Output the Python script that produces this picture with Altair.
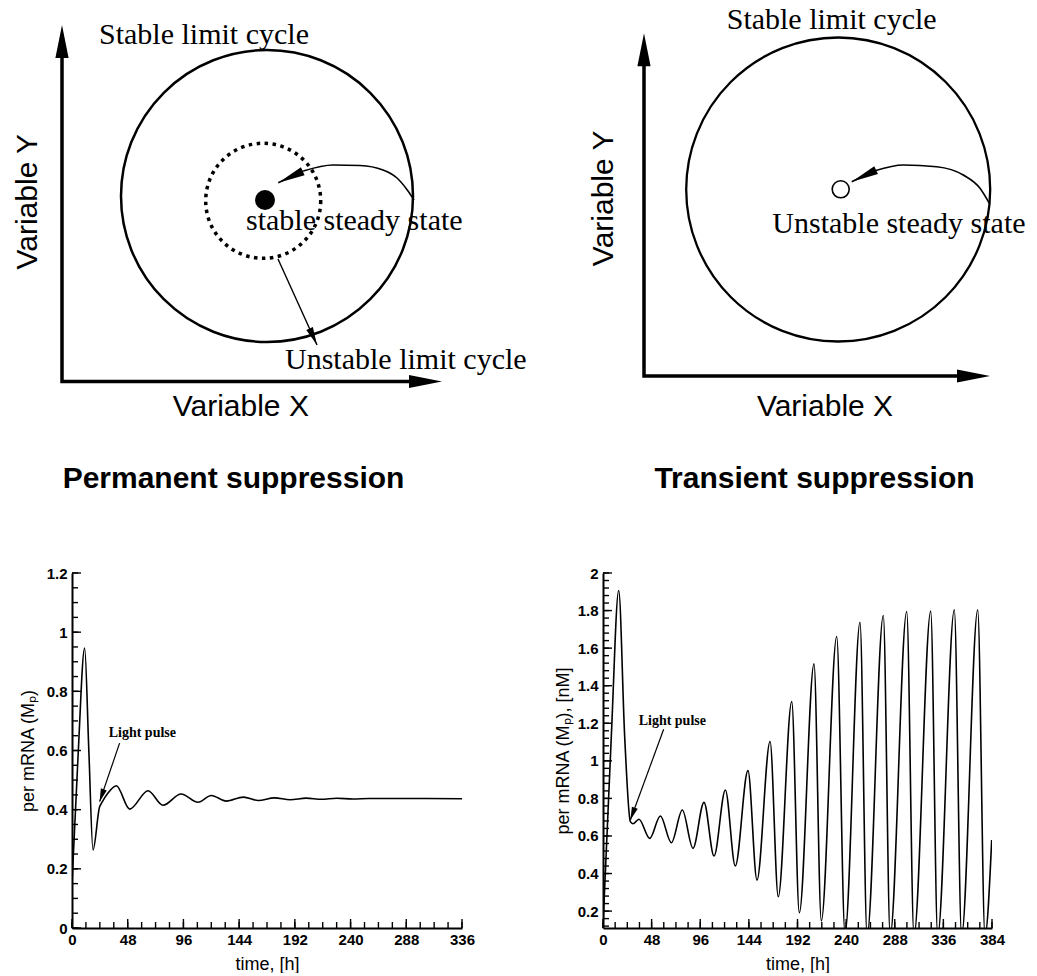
import math
import altair as alt
import pandas as pd

SANS = "Liberation Sans"
SERIF = "Liberation Serif"

# ---------------- data: bottom panels (time [h] vs per mRNA) ----------------
perm_time = [0, 5.2, 10.9, 14.5, 18.1, 23.8, 25.3, 31, 38.2, 49.7, 65.5, 78.4, 94, 108.6,
             120, 133, 147.6, 160.5, 174.3, 188, 201.7, 215, 228, 242, 256, 336]
perm_mrna = [0.15, 0.58, 0.946, 0.60, 0.264, 0.41, 0.421, 0.456, 0.481, 0.402, 0.464, 0.415,
             0.453, 0.425, 0.448, 0.429, 0.4425, 0.431, 0.440, 0.4335, 0.439, 0.435, 0.4385,
             0.436, 0.438, 0.437]

trans_time = [0, 8.2, 15.5, 21.4, 27, 29.6, 35.5, 46.1, 56.6, 67.5, 78.3, 88.8, 99.7, 109.6,
              120.8, 130.6, 143.1, 152, 164.9, 173, 186.3, 193.8, 208.3, 215.5, 230.7, 238.9,
              253.7, 260.7, 276.7, 283.5, 299.8, 307, 323.5, 330.4, 346.8, 354, 369.9, 377.1, 383.7]
trans_mrna = [0.12, 1.129, 1.907, 1.129, 0.676, 0.665, 0.689, 0.587, 0.706, 0.564, 0.738, 0.534,
              0.779, 0.493, 0.845, 0.44, 0.948, 0.365, 1.103, 0.276, 1.316, 0.191, 1.516, 0.148,
              1.662, 0.08, 1.737, 0.07, 1.774, 0.07, 1.795, 0.07, 1.797, 0.07, 1.804, 0.07,
              1.804, 0.07, 0.578]

# light-pulse annotation: shaft start, arrow tip, label position
perm_arrow_time = [41.0, 23.8]
perm_arrow_mrna = [0.625, 0.427]
perm_label = ("Light pulse", 31.6, 0.645)
trans_arrow_time = [59.9, 27.0]
trans_arrow_mrna = [1.168, 0.685]
trans_label = ("Light pulse", 35.2, 1.191)

# axis tick values / labels
perm_x_major = [0, 48, 96, 144, 192, 240, 288, 336]
perm_y_major = [0, 0.2, 0.4, 0.6, 0.8, 1.0, 1.2]
trans_x_major = [0, 48, 96, 144, 192, 240, 288, 336, 384]
trans_y_major = [0.2, 0.4, 0.6, 0.8, 1.0, 1.2, 1.4, 1.6, 1.8, 2.0]


def steps(a, b, step):
    n = int(round((b - a) / step))
    return [round(a + i * step, 6) for i in range(n + 1)]


perm_x_minor = steps(0, 336, 12)
perm_y_minor = steps(0, 1.2, 0.05)
trans_x_minor = steps(0, 384, 12)
trans_y_minor = steps(0.12, 2.0, 0.04)

# ---------------- data: top schematic diagrams (diagram units) ----------------
# permanent suppression (left)
tl_axes_x = [0, 0, 35.2]
tl_axes_y = [32.6, 0, 0]
tl_heads_x = [0, 38.0]
tl_heads_y = [35.65, 0]
tl_heads_dir = [0, 90]
tl_cycle = (20.5, 18.55)
tl_unstable_cycle = (20.12, 18.07)
tl_steady = (20.3, 18.15)
tl_curve_x = [24.13, 27.1, 29.8, 32.1, 33.5, 34.6, 35.2]
tl_curve_y = [21.05, 21.65, 21.6, 21.15, 20.35, 19.05, 18.15]
tl_curve_tip = (21.63, 19.88)
tl_pointer_x = [21.6, 25.5]
tl_pointer_y = [12.25, 3.65]
tl_labels = ["Stable limit cycle", "stable steady state", "Unstable limit cycle"]
tl_labels_x = [3.7, 18.4, 22.3]
tl_labels_y = [33.8, 15.15, 1.22]
tl_axis_titles = [("Variable Y", -3.45, 17.98, 270), ("Variable X", 17.88, -2.52, 0)]

# transient suppression (right)
tr_axes_x = [0, 0, 31.5]
tr_axes_y = [31.2, 0, 0]
tr_heads_x = [0, 34.6]
tr_heads_y = [34.27, 0]
tr_heads_dir = [0, 90]
tr_cycle = (19.42, 18.65)
tr_unstable_state = (19.67, 18.67)
tr_curve_x = [23.1, 25.93, 29.27, 31.93, 33.6, 34.53]
tr_curve_y = [20.53, 21.1, 20.93, 20.1, 18.77, 17.27]
tr_curve_tip = (20.77, 19.43)
tr_labels = ["Stable limit cycle", "Unstable steady state"]
tr_labels_x = [8.27, 12.83]
tr_labels_y = [34.67, 14.27]
tr_axis_titles = [("Variable Y", -3.98, 17.77, 270), ("Variable X", 18.1, -3.07, 0)]

# ---------------- layout (pixels) ----------------
W_L, W_R = 390, 389
TOP_H, BOT_H = 430, 355
COL_GAP, ROW_GAP = 141, 143
PX_PER_UNIT = 10.0  # diagram units

HEAD_AXIS = "M0,0L-0.2,1L0.2,1Z"
HEAD_THIN = "M0,0L-0.16,1L0.16,1Z"
HEAD_SMALL = "M0,0L-0.24,1L0.24,1Z"


def heading(dx_px, dy_up_px):
    return math.degrees(math.atan2(dx_px, dy_up_px)) % 360


def diagram(xdom, ydom, width, axes_x, axes_y, heads_x, heads_y, heads_dir,
            curve_x, curve_y, curve_tip, labels, labels_x, labels_y, axis_titles,
            circles, extra):
    xs = alt.Scale(domain=xdom, nice=False, zero=False)
    ys = alt.Scale(domain=ydom, nice=False, zero=False)

    def base(df):
        return alt.Chart(pd.DataFrame(df)).encode(
            x=alt.X("x:Q", scale=xs, axis=None), y=alt.Y("y:Q", scale=ys, axis=None))

    layers = []
    layers.append(base({"x": axes_x, "y": axes_y, "o": [0, 1, 2]}).mark_line(
        color="black", strokeWidth=3.5, strokeJoin="miter").encode(order="o:Q"))
    layers.append(base({"x": heads_x, "y": heads_y, "ang": heads_dir}).mark_point(
        shape=HEAD_AXIS, size=4356, filled=True, color="black", opacity=1).encode(
        angle=alt.Angle("ang:Q", scale=None)))
    for (cx, cy), diam, props in circles:
        layers.append(base({"x": [cx], "y": [cy]}).mark_point(
            shape="circle", size=diam * diam, color="black", opacity=1, **props))
    # curved trajectory arrow
    layers.append(base({"x": curve_x, "y": curve_y}).mark_line(
        color="black", strokeWidth=1.6, interpolate="monotone"))
    dx = (curve_tip[0] - curve_x[0]) * PX_PER_UNIT
    dy = (curve_tip[1] - curve_y[0]) * PX_PER_UNIT
    layers.append(base({"x": [curve_x[0], curve_tip[0]], "y": [curve_y[0], curve_tip[1]]}).mark_line(
        color="black", strokeWidth=1.6))
    layers.append(base({"x": [curve_tip[0]], "y": [curve_tip[1]], "ang": [heading(dx, dy)]}).mark_point(
        shape=HEAD_THIN, size=2916, filled=True, color="black", opacity=1).encode(
        angle=alt.Angle("ang:Q", scale=None)))
    layers.extend(extra(base))
    layers.append(base({"x": labels_x, "y": labels_y, "label": labels}).mark_text(
        align="left", baseline="alphabetic", font=SERIF, fontSize=30, color="black").encode(
        text="label:N"))
    for txt, tx, ty, ang in axis_titles:
        layers.append(base({"x": [tx], "y": [ty], "label": [txt]}).mark_text(
            align="center", baseline="middle", font=SANS, fontSize=30, color="black",
            angle=ang).encode(text="label:N"))
    return alt.layer(*layers).properties(width=width, height=TOP_H)


def tl_extra(base):
    dx = (tl_pointer_x[1] - tl_pointer_x[0]) * PX_PER_UNIT
    dy = (tl_pointer_y[1] - tl_pointer_y[0]) * PX_PER_UNIT
    anchor = alt.Chart(pd.DataFrame({"a": [0]})).mark_rule(opacity=0).encode(
        x=alt.value(-72), x2=alt.value(-71), y=alt.value(0), y2=alt.value(1))
    return [
        base({"x": tl_pointer_x, "y": tl_pointer_y}).mark_line(color="black", strokeWidth=1.4),
        base({"x": [tl_pointer_x[1]], "y": [tl_pointer_y[1]], "ang": [heading(dx, dy)]}).mark_point(
            shape=HEAD_AXIS, size=1296, filled=True, color="black", opacity=1).encode(
            angle=alt.Angle("ang:Q", scale=None)),
        anchor,
    ]


def tr_extra(base):
    return []


top_left = diagram(
    [1.0, 40.0], [-4.85, 38.15], W_L, tl_axes_x, tl_axes_y, tl_heads_x, tl_heads_y, tl_heads_dir,
    tl_curve_x, tl_curve_y, tl_curve_tip, tl_labels, tl_labels_x, tl_labels_y, tl_axis_titles,
    [(tl_cycle, 292, {"filled": False, "strokeWidth": 2.5}),
     (tl_unstable_cycle, 115, {"filled": False, "strokeWidth": 3.5, "strokeDash": [3.5, 4.5]}),
     (tl_steady, 20, {"filled": True})],
    tl_extra)

top_right = diagram(
    [-4.1, 34.8], [-5.4, 37.6], W_R, tr_axes_x, tr_axes_y, tr_heads_x, tr_heads_y, tr_heads_dir,
    tr_curve_x, tr_curve_y, tr_curve_tip, tr_labels, tr_labels_x, tr_labels_y, tr_axis_titles,
    [(tr_cycle, 304, {"filled": False, "strokeWidth": 2.3}),
     (tr_unstable_state, 17, {"filled": False, "strokeWidth": 1.6})],
    tr_extra)


def series_panel(time, mrna, xmax, ydom, xmaj, xmin, ymaj, ymin, ytitle, ytitle_x,
                 arrow_t, arrow_m, label, title_text, title_dx, width, height):
    xs = alt.Scale(domain=[0, xmax], nice=False, zero=False)
    ys = alt.Scale(domain=ydom, nice=False, zero=False)
    kx = width / xmax
    ky = height / (ydom[1] - ydom[0])
    common = dict(ticks=False, grid=False, domainColor="black", domainWidth=2,
                  labelFont=SANS, labelFontSize=15, labelFontWeight="bold", labelColor="black",
                  labelFlush=False, labelOverlap=False, titleFont=SANS, titleFontSize=18,
                  titleFontWeight="normal", titleColor="black", titleBaseline="middle")
    x_axis = alt.Axis(values=xmaj, format="d", labelPadding=4, title="time, [h]", titleY=36, **common)
    y_axis = alt.Axis(values=ymaj, format=".1~f", labelPadding=5, title=ytitle, titleX=ytitle_x,
                      titleY=height / 2, **common)

    def X(field="time"):
        return alt.X(f"{field}:Q", scale=xs, axis=x_axis, title="time, [h]")

    def Y(field="mrna"):
        return alt.Y(f"{field}:Q", scale=ys, axis=y_axis, title=ytitle)

    curve = alt.Chart(pd.DataFrame({"time": time, "mrna": mrna})).mark_line(
        color="black", strokeWidth=1.6, interpolate="monotone", clip=True).encode(x=X(), y=Y())

    def yt(vals, length):
        return alt.Chart(pd.DataFrame({"mrna": vals})).mark_rule(color="black", strokeWidth=1.4).encode(
            y=Y(), x=alt.value(0), x2=alt.value(length))

    def xt(vals, length):
        return alt.Chart(pd.DataFrame({"time": vals})).mark_rule(color="black", strokeWidth=1.4).encode(
            x=X(), y=alt.value(height), y2=alt.value(height - length))

    dx = (arrow_t[1] - arrow_t[0]) * kx
    dy = (arrow_m[1] - arrow_m[0]) * ky
    shaft = alt.Chart(pd.DataFrame({"time": arrow_t, "mrna": arrow_m})).mark_line(
        color="black", strokeWidth=1.2).encode(x=X(), y=Y())
    head = alt.Chart(pd.DataFrame({"time": [arrow_t[1]], "mrna": [arrow_m[1]],
                                   "ang": [heading(dx, dy)]})).mark_point(
        shape=HEAD_SMALL, size=676, filled=True, color="black", opacity=1).encode(
        x=X(), y=Y(), angle=alt.Angle("ang:Q", scale=None))
    txt = alt.Chart(pd.DataFrame({"time": [label[1]], "mrna": [label[2]], "label": [label[0]]})).mark_text(
        align="left", baseline="alphabetic", font=SERIF, fontSize=14, fontWeight="bold",
        color="black").encode(x=X(), y=Y(), text="label:N")

    return alt.layer(
        curve, yt(ymaj, 9), yt(ymin, 6), xt(xmaj, 9), xt(xmin, 6), shaft, head, txt
    ).properties(
        width=width, height=height,
        title=alt.TitleParams(title_text, font=SANS, fontSize=30, fontWeight="bold", color="black",
                              anchor="middle", frame="group", offset=48, dx=title_dx,
                              baseline="alphabetic"))


bottom_left = series_panel(perm_time, perm_mrna, 336, [0, 1.2], perm_x_major, perm_x_minor,
                           perm_y_major, perm_y_minor, "per mRNA (Mₚ)", -44,
                           perm_arrow_time, perm_arrow_mrna, perm_label,
                           "Permanent suppression", -33.5, W_L, BOT_H)
bottom_right = series_panel(trans_time, trans_mrna, 384, [0.11, 2.0], trans_x_major, trans_x_minor,
                            trans_y_major, trans_y_minor, "per mRNA (Mₚ), [nM]", -40,
                            trans_arrow_time, trans_arrow_mrna, trans_label,
                            "Transient suppression", 17, W_R, BOT_H)

chart = alt.concat(
    top_left, top_right, bottom_left, bottom_right,
    columns=2, spacing={"row": ROW_GAP, "column": COL_GAP}, bounds="flush", align="each",
    padding=0, background="white",
).configure_view(stroke=None)

chart.save("out.html", embed_options={"renderer": "svg", "actions": False})
